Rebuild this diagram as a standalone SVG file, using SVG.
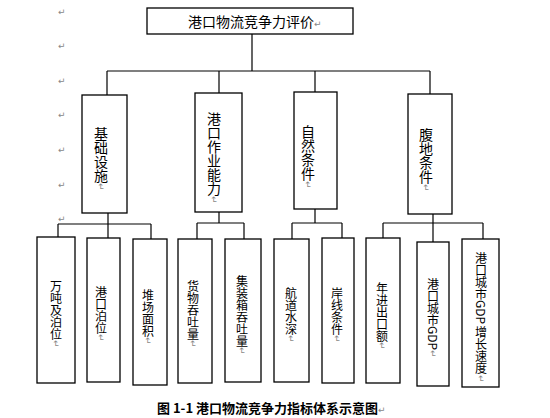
<svg xmlns="http://www.w3.org/2000/svg" width="550" height="418" viewBox="0 0 550 418">
<style>
.box{fill:#fff;stroke:#000;stroke-width:1.3}
.ln{fill:none;stroke:#000;stroke-width:1.2}
.t{font-family:"Noto Sans CJK SC","Noto Sans",sans-serif;fill:#000}
.v{writing-mode:vertical-rl;text-orientation:mixed}
.l2{font-size:14px}
.l3{font-size:12px}
.pm{fill:#888;font-family:"DejaVu Sans",sans-serif;font-size:9px}
.cap{font-family:"Noto Sans CJK SC",sans-serif;font-size:13px;font-weight:bold;fill:#000}
</style>
<rect width="550" height="418" fill="#fff"/>
<g id="margin-marks" class="pm">
<text x="58" y="15">↵</text><text x="58" y="49">↵</text><text x="58" y="84">↵</text><text x="58" y="118">↵</text><text x="58" y="153">↵</text><text x="58" y="188">↵</text><text x="58" y="222">↵</text>
</g>
<g id="connectors" class="ln">
<path d="M252 34V71M107 71H430M107 71V95M219 71V93M315 71V92M430 71V94"/>
<path d="M108 213V224M58 224H151M58 224V237M108 224V238M151 224V239"/>
<path d="M219 212V223M197 223H244M197 223V239M244 223V239"/>
<path d="M315 209V223M292 223H342M292 223V239M342 223V238"/>
<path d="M433 214V223M383 223H483M383 223V238M433 223V242M483 223V239"/>
</g>
<g id="root"><rect class="box" x="147" y="8" width="206" height="26"/><text class="t" x="188" y="27" font-size="14">港口物流竞争力评价<tspan class="pm">↵</tspan></text></g>
<g id="n-jichu"><rect class="box" x="82" y="95" width="45" height="118"/><text class="t v l2" x="101" y="127">基础设施<tspan class="pm">↵</tspan></text></g>
<g id="n-zuoye"><rect class="box" x="195" y="93" width="47" height="119"/><text class="t v l2" x="214" y="112">港口作业能力<tspan class="pm">↵</tspan></text></g>
<g id="n-ziran"><rect class="box" x="294" y="92" width="43" height="117"/><text class="t v l2" x="308" y="125">自然条件<tspan class="pm">↵</tspan></text></g>
<g id="n-fudi"><rect class="box" x="408" y="94" width="44" height="120"/><text class="t v l2" x="426" y="128">腹地条件<tspan class="pm">↵</tspan></text></g>
<g id="b1"><rect class="box" x="37" y="237" width="38" height="146"/><text class="t v l3" x="56" y="280">万吨及泊位<tspan class="pm">↵</tspan></text></g>
<g id="b2"><rect class="box" x="87" y="238" width="33" height="144"/><text class="t v l3" x="101" y="286">港口泊位<tspan class="pm">↵</tspan></text></g>
<g id="b3"><rect class="box" x="133" y="239" width="34" height="146"/><text class="t v l3" x="148" y="289">堆场面积<tspan class="pm">↵</tspan></text></g>
<g id="b4"><rect class="box" x="178" y="239" width="34" height="144"/><text class="t v l3" x="193" y="280">货物吞吐量<tspan class="pm">↵</tspan></text></g>
<g id="b5"><rect class="box" x="225" y="239" width="36" height="143"/><text class="t v l3" x="242" y="275">集装箱吞吐量<tspan class="pm">↵</tspan></text></g>
<g id="b6"><rect class="box" x="274" y="239" width="35" height="143"/><text class="t v l3" x="291" y="287">航道水深<tspan class="pm">↵</tspan></text></g>
<g id="b7"><rect class="box" x="322" y="238" width="32" height="145"/><text class="t v l3" x="337" y="287">岸线条件<tspan class="pm">↵</tspan></text></g>
<g id="b8"><rect class="box" x="366" y="238" width="34" height="145"/><text class="t v l3" x="382" y="282">年进出口额<tspan class="pm">↵</tspan></text></g>
<g id="b9"><rect class="box" x="417" y="242" width="32" height="144"/><text class="t v l3" x="433" y="278">港口城市GDP<tspan class="pm">↵</tspan></text></g>
<g id="b10"><rect class="box" x="462" y="239" width="37" height="148"/><text class="t v l3" x="481" y="252">港口城市GDP 增长速度<tspan class="pm">↵</tspan></text></g>
<text class="cap" x="157" y="413">图 1-1 港口物流竞争力指标体系示意图<tspan class="pm" font-weight="normal">↵</tspan></text>
</svg>
